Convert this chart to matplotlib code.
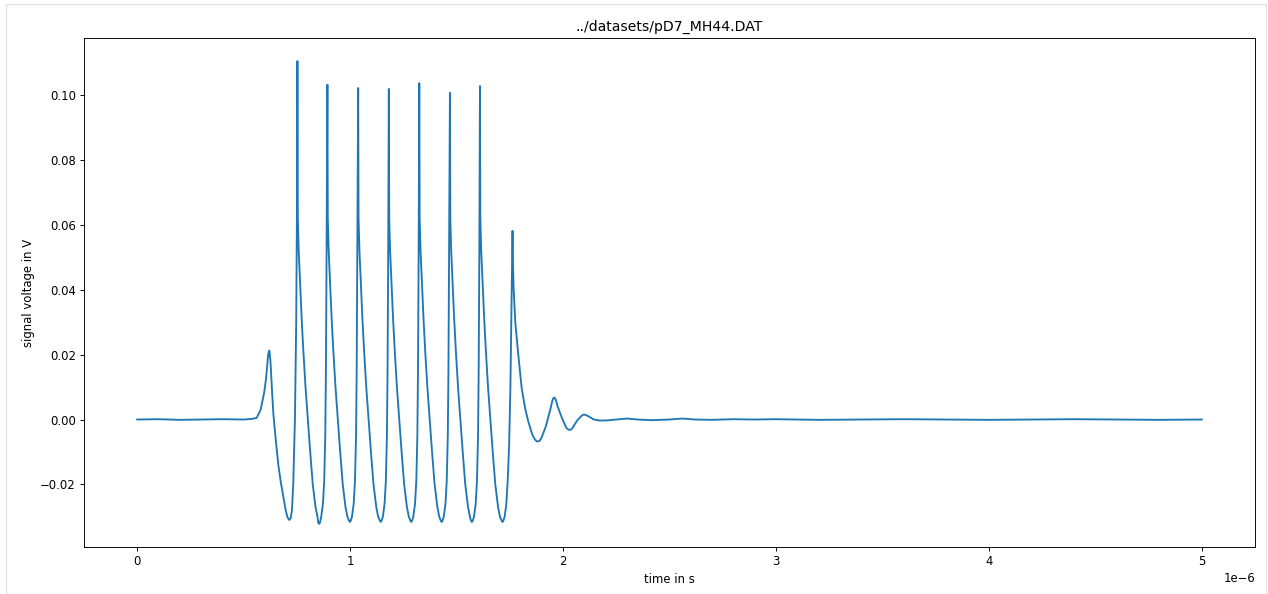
import matplotlib
matplotlib.use('Agg')
import matplotlib.pyplot as plt
from matplotlib.patches import Rectangle

# signal: time in microseconds, voltage in V
time_us = [
    0.0, 0.1, 0.2, 0.3, 0.4, 0.5, 0.54,
    # small precursor bump
    0.561, 0.58, 0.597, 0.605, 0.61, 0.615, 0.621, 0.626, 0.63, 0.635, 0.640, 0.652, 0.663, 0.675,
    0.687, 0.697, 0.706, 0.715, 0.721,
    0.727, 0.733, 0.741, 0.747, 0.751, 0.7527,
    # pulse 1
    0.7545, 0.7587, 0.7653, 0.7727, 0.7807, 0.7907, 0.8017, 0.8127, 0.8247, 0.8377, 0.8467,
    0.8505, 0.8545, 0.8585,
    0.8645, 0.8725, 0.8785, 0.8835, 0.8865, 0.8895, 0.8935,
    # pulse 2
    0.8953, 0.8995, 0.9061, 0.9135, 0.9215, 0.9315, 0.9425, 0.9535, 0.9655, 0.9785, 0.9875,
    0.995, 0.999, 1.003,
    1.009, 1.017, 1.023, 1.028, 1.031, 1.034, 1.038,
    # pulse 3
    1.0398, 1.044, 1.0506, 1.058, 1.066, 1.076, 1.087, 1.098, 1.110, 1.123, 1.132,
    1.140, 1.144, 1.148,
    1.154, 1.162, 1.168, 1.173, 1.176, 1.179, 1.182,
    # pulse 4
    1.1838, 1.188, 1.1946, 1.202, 1.210, 1.220, 1.231, 1.242, 1.254, 1.267, 1.276,
    1.283, 1.287, 1.291,
    1.297, 1.305, 1.311, 1.316, 1.319, 1.322, 1.325,
    # pulse 5
    1.3268, 1.331, 1.3376, 1.345, 1.353, 1.363, 1.374, 1.385, 1.397, 1.410, 1.419,
    1.426, 1.430, 1.434,
    1.440, 1.448, 1.454, 1.459, 1.462, 1.465, 1.469,
    # pulse 6
    1.4708, 1.475, 1.4816, 1.489, 1.497, 1.507, 1.518, 1.529, 1.541, 1.554, 1.563,
    1.568, 1.572, 1.576,
    1.582, 1.590, 1.596, 1.601, 1.604, 1.607, 1.610,
    # pulse 7
    1.6118, 1.616, 1.6226, 1.630, 1.638, 1.648, 1.659, 1.670, 1.682, 1.695, 1.704,
    1.712, 1.716, 1.720,
    1.726, 1.734, 1.741, 1.747, 1.753, 1.758, 1.763,
    # last pulse and ringing
    1.7645, 1.768, 1.776, 1.790, 1.806, 1.822, 1.837, 1.855, 1.868, 1.879, 1.89, 1.90, 1.92,
    1.94, 1.95, 1.955, 1.959, 1.963, 1.968, 1.975, 1.995, 2.015, 2.025, 2.033, 2.042, 2.05, 2.07,
    2.09, 2.097, 2.103, 2.11, 2.12, 2.145, 2.17, 2.2, 2.25, 2.3, 2.35, 2.42, 2.5, 2.56, 2.62,
    2.7, 2.8, 2.9, 3.0, 3.2, 3.4, 3.6, 3.8, 4.0, 4.2, 4.4, 4.6, 4.8, 5.0,
]

signal_v = [
    0.0, 0.0001, -0.0001, 0.0, 0.0001, 0.0, 0.0002,
    0.0005, 0.003, 0.0085, 0.0125, 0.016, 0.020, 0.0213, 0.018, 0.013, 0.007, 0.0015, -0.007, -0.014, -0.0195,
    -0.0240, -0.0278, -0.0302, -0.031, -0.0304,
    -0.028, -0.020, 0.0, 0.03, 0.07, 0.1106,
    0.062, 0.052, 0.042, 0.031, 0.021, 0.010, 0.0, -0.010, -0.020, -0.027, -0.030,
    -0.0318, -0.0322, -0.0318,
    -0.030, -0.026, -0.019, -0.005, 0.015, 0.05, 0.1033,
    0.062, 0.052, 0.042, 0.031, 0.021, 0.010, 0.0, -0.010, -0.020, -0.027, -0.030,
    -0.0312, -0.0316, -0.0312,
    -0.030, -0.026, -0.019, -0.005, 0.015, 0.05, 0.1023,
    0.062, 0.052, 0.042, 0.031, 0.021, 0.010, 0.0, -0.010, -0.020, -0.027, -0.030,
    -0.0312, -0.0316, -0.0312,
    -0.030, -0.026, -0.019, -0.005, 0.015, 0.05, 0.1020,
    0.062, 0.052, 0.042, 0.031, 0.021, 0.010, 0.0, -0.010, -0.020, -0.027, -0.030,
    -0.0312, -0.0316, -0.0312,
    -0.030, -0.026, -0.019, -0.005, 0.015, 0.05, 0.1038,
    0.062, 0.052, 0.042, 0.031, 0.021, 0.010, 0.0, -0.010, -0.020, -0.027, -0.030,
    -0.0312, -0.0316, -0.0312,
    -0.030, -0.026, -0.019, -0.005, 0.015, 0.05, 0.1008,
    0.062, 0.052, 0.042, 0.031, 0.021, 0.010, 0.0, -0.010, -0.020, -0.027, -0.030,
    -0.0312, -0.0316, -0.0312,
    -0.030, -0.026, -0.019, -0.005, 0.015, 0.05, 0.1029,
    0.062, 0.052, 0.042, 0.031, 0.021, 0.010, 0.0, -0.010, -0.020, -0.027, -0.030,
    -0.0312, -0.0316, -0.0312,
    -0.030, -0.026, -0.018, -0.008, 0.010, 0.035, 0.0582,
    0.050, 0.0407, 0.030, 0.020, 0.0097, 0.0035, -0.0006, -0.0045, -0.0062, -0.0068, -0.0066, -0.0055, -0.002,
    0.003, 0.0058, 0.0066, 0.0068, 0.0065, 0.0057, 0.004, 0.0005, -0.0025, -0.0031, -0.0032, -0.0029, -0.002, 0.0,
    0.0013, 0.0015, 0.0015, 0.0013, 0.001, 0.0, -0.0003, -0.0003, 0.0, 0.0003, 0.0, -0.0002, 0.0, 0.0003, 0.0,
    -0.0001, 0.0001, 0.0, 0.0001, -0.0001, 0.0, 0.0001, 0.0, -0.0001, 0.0, 0.0001, 0.0, -0.0001, 0.0,
]

title = '../datasets/pD7_MH44.DAT'

# rendered at a lower dpi so text and lines come out as small as in the notebook image
dpi = 84
fig = plt.figure(figsize=(1268 / dpi, 594 / dpi), dpi=dpi)
ax = fig.add_axes([0.0662, 0.0791, 0.9235, 0.857])

# time axis in seconds
time_s = [t * 1e-6 for t in time_us]
ax.plot(time_s, signal_v, color='#1f77b4', linewidth=1.6)

ax.set_title(title)
ax.set_xlabel('time in s')
ax.set_ylabel('signal voltage in V')

# light frame around the output cell
fig.add_artist(Rectangle((6 / 1268, 0), 1260 / 1268, 590 / 594, transform=fig.transFigure,
                         fill=False, edgecolor='#e0e0e0', linewidth=1))

fig.savefig('out.png', dpi=dpi)
